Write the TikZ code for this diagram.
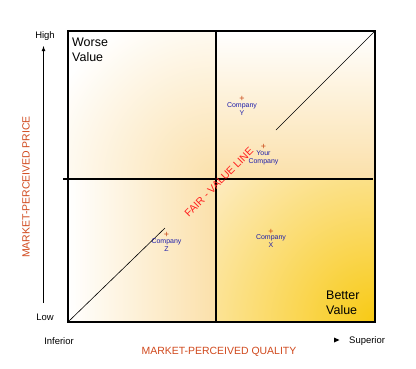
\documentclass[tikz,border=0pt]{standalone}
\usepackage{fontspec}
\setmainfont{Liberation Sans}
\usetikzlibrary{positioning}
\definecolor{pricered}{RGB}{208,72,28}
\definecolor{fairred}{RGB}{255,30,30}
\definecolor{coblue}{RGB}{30,30,170}
\definecolor{plusred}{RGB}{200,70,20}
\definecolor{beige}{RGB}{251,224,170}
\definecolor{gold}{RGB}{248,202,20}
\definecolor{paleyel}{RGB}{253,235,190}

\begin{document}
\begin{tikzpicture}[x=1bp,y=-1bp,
  frame/.style={line width=1.2bp},
  tag/.style={font=\fontsize{9.5}{11}\selectfont,inner sep=0pt},
  big/.style={font=\fontsize{12.5}{15}\selectfont,inner sep=0pt,align=left},
  axis/.style={text=pricered,font=\fontsize{10.5}{12}\selectfont,inner sep=0pt},
  plus/.style={text=plusred,font=\fontsize{9}{9}\selectfont,inner sep=0pt},
  firm/.style={text=coblue,font=\fontsize{7}{8}\selectfont,inner sep=0pt,align=center}]
  \useasboundingbox (0,0) rectangle (416,369);
  % shaded quadrants
  \begin{scope}
    \clip (68,31) rectangle (216,179);
    \shade[inner color=beige,outer color=white] (216,179) circle (180);
  \end{scope}
  \shade[top color=white,bottom color=beige] (216,31) rectangle (375,179);
  \shade[left color=white,right color=beige] (68,179) rectangle (216,322);
  \begin{scope}
    \clip (216,179) rectangle (375,322);
    \fill[paleyel] (216,179) rectangle (375,322);
    \shade[inner color=gold,outer color=paleyel] (375,322) circle (210);
  \end{scope}

  \coordinate (tl) at (68,31);
  \coordinate (br) at (375,322);
  \coordinate (bl) at (68,322);
  \coordinate (tr) at (375,31);
  \coordinate (vt) at (216,31);
  \coordinate (vb) at (216,323);
  \coordinate (hl) at (63,179);
  \coordinate (hr) at (373,179);
  \coordinate (zl) at (165,228);
  \coordinate (yl) at (276,130);
  \coordinate (pb) at (43.5,303);
  \coordinate (pt) at (43.5,46);

  \draw[frame] (tl) rectangle (br);
  \draw[frame] (vt) -- (vb);
  \draw[frame] (hl) -- (hr);
  \draw[line width=0.6bp] (bl) -- (zl);
  \draw[line width=0.6bp] (yl) -- (tr);
  \draw[line width=0.8bp,-latex] (pb) -- (pt);
  \fill (334,337.5) -- (339.5,340) -- (334,342.5) -- cycle;

  % labels
  \node[big,anchor=north west] (worse) at (72,38) {Worse\\Value};
  \node[big,anchor=north west] (better) at (326,291) {Better\\Value};
  \node[tag] (high) at (45,36) {High};
  \node[tag] (low) at (45,317) {Low};
  \node[tag] (inf) at (59,341) {Inferior};
  \node[tag,anchor=west] (sup) at (349,341) {Superior};
  \node[axis,rotate=90] (price) at (26,187) {MARKET-PERCEIVED PRICE};
  \node[axis] (quality) at (219,352) {MARKET-PERCEIVED QUALITY};
  \node[rotate=45,text=fairred,inner sep=0pt,font=\fontsize{10.5}{12}\selectfont] (fair) at (219,182) {FAIR - VALUE LINE};

  % companies
  \node[plus] (py) at (242,99) {+};
  \node[firm,below=0.5bp of py] (cy) {Company\\Y};
  \node[plus] (pu) at (263.5,147) {+};
  \node[firm,below=0.5bp of pu] (cu) {Your\\Company};
  \node[plus] (pz) at (166.5,235) {+};
  \node[firm,below=0.5bp of pz] (cz) {Company\\Z};
  \node[plus] (px) at (271,231.5) {+};
  \node[firm,below=0.5bp of px] (cx) {Company\\X};
\end{tikzpicture}
\end{document}
